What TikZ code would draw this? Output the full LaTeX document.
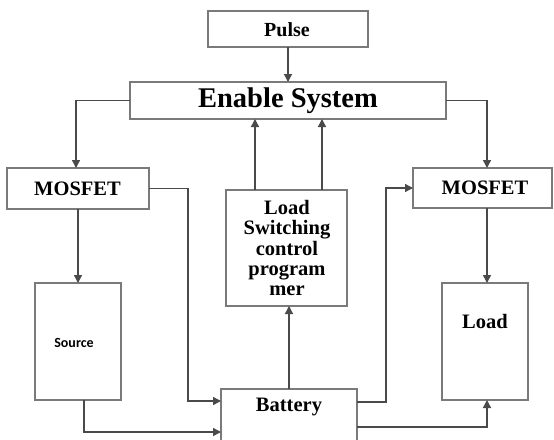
\documentclass[tikz,border=0pt]{standalone}
\usepackage{fontspec}
\setmainfont{Liberation Serif}
\newfontfamily\srcfont{Carlito}
\usetikzlibrary{arrows.meta,calc}
\definecolor{boxgray}{HTML}{7A7A7A}
\definecolor{linegray}{HTML}{4A4A4A}
\begin{document}
\begin{tikzpicture}[x=1pt,y=1pt,
  box/.style={draw=boxgray, line width=1.4pt, fill=white, rectangle, inner sep=0pt, outer sep=0pt},
  txt/.style={font=\bfseries\fontsize{20.5}{20.2}\selectfont, text=black, inner sep=0pt, align=center},
  conn/.style={draw=linegray, line width=1.4pt},
  arr/.style={conn, -{Triangle[length=8pt,width=8pt]}}
]
\clip (0,0) rectangle (554,-439);
\fill[white] (0,0) rectangle (554,-439);

% boxes
\node[box, minimum width=160, minimum height=36] (pulse) at (288,-29) {};
\node[txt, font=\bfseries\fontsize{20}{20}\selectfont] (pulsetxt) at (287,-30) {Pulse};
\node[box, minimum width=316, minimum height=37] (enable) at (288,-100.5) {};
\node[txt, font=\bfseries\fontsize{28.5}{30}\selectfont] (enabletxt) at (288,-101) {Enable System};
\node[box, minimum width=142, minimum height=41] (lmos) at (78,-188.5) {};
\node[txt] (lmostxt) at (77.5,-189) {MOSFET};
\node[box, minimum width=139, minimum height=40] (rmos) at (482.5,-188) {};
\node[txt] (rmostxt) at (485,-188) {MOSFET};
\node[box, minimum width=86, minimum height=117] (source) at (78,-341.5) {};
\node[font=\srcfont\bfseries\fontsize{14}{16}\selectfont, inner sep=0pt] (sourcetxt) at (74,-343) {Source};
\node[box, minimum width=86, minimum height=117] (load) at (485,-341.5) {};
\node[txt] (loadtxt) at ([yshift=-38]load.north) {Load};
\node[box, minimum width=121, minimum height=116] (lsc) at (286.5,-248) {};
\node[txt] (lsctxt) at (287,-248) {Load\\Switching\\control\\program\\mer};
\node[box, minimum width=136, minimum height=71] (battery) at (289,-424.5) {};
\node[txt] (batterytxt) at ([yshift=-18]battery.north) {Battery};

% connectors
\draw[arr] (pulse.south) -- (enable.north);
\draw[arr] (enable.west) -| ([xshift=-2]lmos.north);
\draw[arr] (enable.east) -| ([xshift=4.5]rmos.north);
\draw[arr] ([xshift=-31.5]lsc.north) -- ([xshift=-31.5]lsc.north |- enable.south);
\draw[arr] ([xshift=35.5]lsc.north) -- ([xshift=35.5]lsc.north |- enable.south);
\draw[arr] (battery.north) -- (battery.north |- lsc.south);
\draw[arr] (lmos.south) -- (source.north);
\draw[arr] ([xshift=4.5]rmos.south) -- ([xshift=4.5]rmos.south |- load.north);
\coordinate (c1) at (188,-189);
\draw[arr] (lmos.east) -- (lmos.east -| c1) |- ([yshift=-12]battery.north west);
\draw[arr] ([xshift=6]source.south) |- ([yshift=-43]battery.north west);
\draw[arr] ([yshift=-13]battery.north east) -| ($(rmos.west)+(-27,0)$) -- (rmos.west);
\draw[arr] ([yshift=-38]battery.north east) -| ([xshift=2]load.south);
\end{tikzpicture}
\end{document}
